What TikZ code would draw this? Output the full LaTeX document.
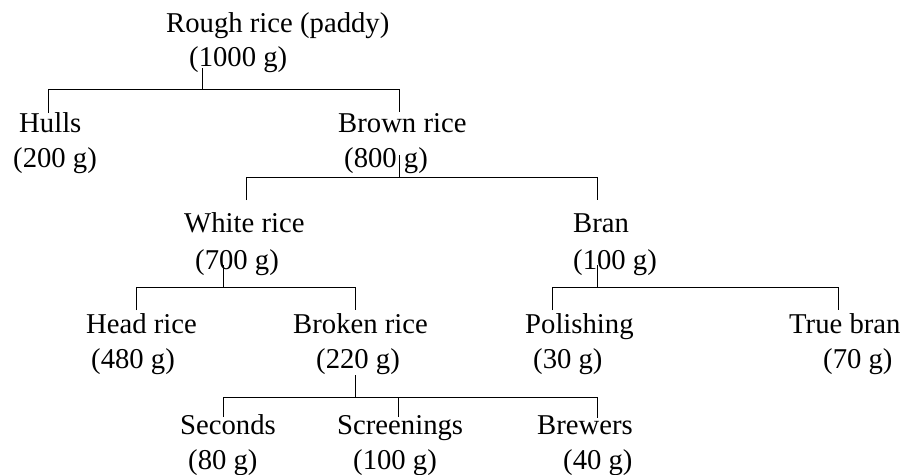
\documentclass[tikz,border=0pt]{standalone}
\usepackage{fontspec}
\setmainfont{Liberation Serif}

\begin{document}
\begin{tikzpicture}[x=1pt,y=-1pt,
    lbl/.style={anchor=base west,inner sep=0pt,font=\fontsize{28.7}{34}\selectfont},
    link/.style={line width=1pt}]
    \useasboundingbox (0,0) rectangle (905,474);

    % labels
    \node[lbl] (rough)    at (166,32)  {Rough rice (paddy)};
    \node[lbl] (rough-g)  at (189,66)  {(1000 g)};
    \node[lbl] (hulls)    at (19,132)  {Hulls};
    \node[lbl] (hulls-g)  at (13,167)  {(200 g)};
    \node[lbl] (brown)    at (338,132) {Brown rice};
    \node[lbl] (brown-g)  at (344,167) {(800 g)};
    \node[lbl] (white)    at (184,232) {White rice};
    \node[lbl] (white-g)  at (195,269) {(700 g)};
    \node[lbl] (bran)     at (573,232) {Bran};
    \node[lbl] (bran-g)   at (573,269) {(100 g)};
    \node[lbl] (head)     at (86,333)  {Head rice};
    \node[lbl] (head-g)   at (91,368)  {(480 g)};
    \node[lbl] (broken)   at (293,333) {Broken rice};
    \node[lbl] (broken-g) at (316,368) {(220 g)};
    \node[lbl] (polish)   at (525,333) {Polishing};
    \node[lbl] (polish-g) at (533,368) {(30 g)};
    \node[lbl] (trueb)    at (789,333) {True bran};
    \node[lbl] (trueb-g)  at (823,368) {(70 g)};
    \node[lbl] (second)   at (180,434) {Seconds};
    \node[lbl] (second-g) at (188,469) {(80 g)};
    \node[lbl] (screen)   at (337,434) {Screenings};
    \node[lbl] (screen-g) at (353,469) {(100 g)};
    \node[lbl] (brewer)   at (537,434) {Brewers};
    \node[lbl] (brewer-g) at (563,469) {(40 g)};

    % stems and branch points
    \coordinate (rough-s)  at (202,68);
    \coordinate (rough-j)  at (202,89.5);
    \coordinate (hulls-n)  at (48,113);
    \coordinate (brown-n)  at (399,112);
    \coordinate (brown-s)  at (399,155);
    \coordinate (brown-j)  at (399,177.5);
    \coordinate (white-n)  at (246,200);
    \coordinate (bran-n)   at (597,200);
    \coordinate (white-s)  at (223,265);
    \coordinate (white-j)  at (223,287.5);
    \coordinate (head-n)   at (136,310);
    \coordinate (broken-n) at (355,310);
    \coordinate (bran-s)   at (597,265);
    \coordinate (bran-j)   at (597,287.5);
    \coordinate (polish-n) at (552,310);
    \coordinate (trueb-n)  at (838,310);
    \coordinate (broken-s) at (355,375);
    \coordinate (broken-j) at (355,397.5);
    \coordinate (second-n) at (223,417);
    \coordinate (screen-n) at (398,417);
    \coordinate (brewer-n) at (597,418);

    % tree
    \draw[link] (rough-s) -- (rough-j);
    \draw[link] (hulls-n) |- (rough-j) -| (brown-n);
    \draw[link] (brown-s) -- (brown-j);
    \draw[link] (white-n) |- (brown-j) -| (bran-n);
    \draw[link] (white-s) -- (white-j);
    \draw[link] (head-n) |- (white-j) -| (broken-n);
    \draw[link] (bran-s) -- (bran-j);
    \draw[link] (polish-n) |- (bran-j) -| (trueb-n);
    \draw[link] (broken-s) -- (broken-j);
    \draw[link] (second-n) |- (broken-j) -| (brewer-n);
    \draw[link] (screen-n) -- (screen-n |- broken-j);
\end{tikzpicture}
\end{document}
